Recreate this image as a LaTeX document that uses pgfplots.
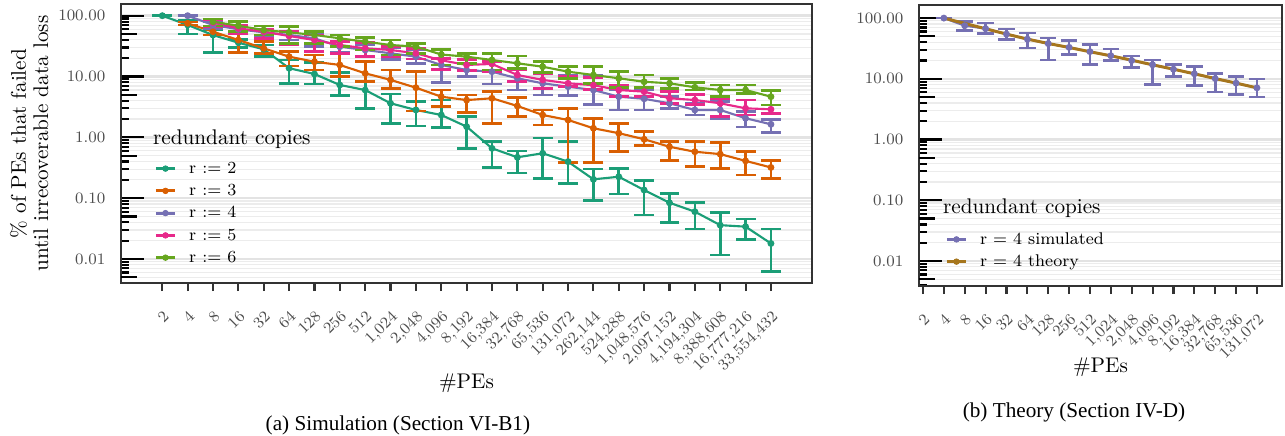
\documentclass[border=0pt]{standalone}
\usepackage{fontspec}
\usepackage{pgfplots}
\usepackage{pgfplotstable}
\pgfplotsset{compat=1.18}
\newfontfamily\capfont{Liberation Serif}
\definecolor{cA}{HTML}{1B9E77}
\definecolor{cB}{HTML}{D95F02}
\definecolor{cC}{HTML}{7570B3}
\definecolor{cD}{HTML}{E7298A}
\definecolor{cE}{HTML}{66A61E}
\definecolor{cT}{HTML}{A6761D}
\definecolor{frame}{HTML}{333333}
\definecolor{ticklab}{HTML}{4D4D4D}
\definecolor{gmaj}{HTML}{E3E3E3}
\definecolor{gmin}{HTML}{ECECEC}

\pgfplotstableread{
k y lo hi
1 100 100 100
2 70.4 50 85
3 48 25 58
4 36 30 41
5 28 21.2 33
6 13.7 7.7 18.7
7 11.0 7.5 16.9
8 7.26 4.84 11.6
9 6.0 3.0 8.1
10 3.63 1.70 5.16
11 2.82 1.54 3.86
12 2.33 1.44 4.1
13 1.50 0.66 2.19
14 0.66 0.317 0.85
15 0.47 0.26 0.6
16 0.547 0.212 0.98
17 0.398 0.176 0.85
18 0.204 0.091 0.30
19 0.225 0.117 0.31
20 0.136 0.053 0.194
21 0.084 0.040 0.12
22 0.06 0.031 0.084
23 0.036 0.0117 0.058
24 0.034 0.021 0.0455
25 0.018 0.0062 0.031
}\tA
\pgfplotstableread{
k y lo hi
2 75 70 79
3 54.6 48 62
4 39.8 25 51.4
5 29.1 24.1 37.4
6 21.2 14.9 25.6
7 17.5 12.8 22.6
8 15.5 9.9 24.1
9 11.3 8.2 17.5
10 8.8 6.4 12.8
11 6.55 2.7 12.0
12 4.66 3.19 6.0
13 4.1 2.58 4.97
14 4.39 1.70 5.63
15 3.28 2.19 4.56
16 2.33 1.6 2.82
17 1.93 0.39 3.0
18 1.41 0.39 2.06
19 1.17 0.58 1.70
20 0.93 0.73 1.24
21 0.70 0.42 0.85
22 0.58 0.33 0.85
23 0.53 0.31 0.82
24 0.41 0.24 0.58
25 0.32 0.21 0.42
}\tB
\pgfplotstableread{
k y lo hi
2 100 100 100
3 70.4 62 79.7
4 59.7 51.4 66
5 53.3 46.3 59.7
6 48.2 39.8 54.6
7 42.5 30.9 51.4
8 30.9 25 38
9 27.3 21 33
10 24.1 19 30
11 21.2 16.5 27.3
12 15.5 7.9 20.0
13 12.8 10.0 16.0
14 12.0 7.5 17.5
15 9.35 6.0 13.7
16 7.74 5.0 11.6
17 6.8 4.84 10.6
18 6.0 3.5 10.6
19 4.66 2.82 6.0
20 4.3 2.82 6.0
21 3.63 3.0 4.66
22 2.82 2.33 3.63
23 2.82 2.0 3.86
24 2.06 1.47 2.63
25 1.64 1.2 1.98
}\tC
\pgfplotstableread{
k y lo hi
3 76.7 66 85
4 62 51.4 70.4
5 54.6 42.5 59.7
6 46.4 33 54.6
7 39.8 25.6 48.2
8 33.0 24.1 37.4
9 29.1 21.2 36
10 27.3 21.2 31
11 24.1 19.5 29
12 18.5 13 19.9
13 15.5 12.5 19.2
14 16.1 12.0 17.5
15 10.6 8.2 12.8
16 8.8 6.4 11.3
17 7.74 6.8 9.96
18 7.2 6.17 9.7
19 6.0 4.66 7.26
20 5.64 4.66 6.65
21 4.39 3.63 5.64
22 4.11 3.5 5.1
23 3.63 2.19 4.39
24 3.0 2.33 4.11
25 2.89 2.49 3.41
}\tD
\pgfplotstableread{
k y lo hi
3 79.7 67.7 88.3
4 68.5 54.6 79.7
5 58 48.2 67.7
6 53.3 35.2 66
7 48.2 35.2 54.6
8 42.5 31 48.2
9 37.4 27.3 44.2
10 33 22.6 39.8
11 31 24.1 35.2
12 23 15.5 28
13 21.2 16.5 24.1
14 18.7 12.8 24.1
15 16.5 13.7 21.8
16 14.5 11.6 17.5
17 12.0 9.35 14.5
18 10.6 7.74 14.5
19 9.35 6.65 12.0
20 8.2 6.65 10.6
21 7.74 6.4 9.35
22 6.65 6.0 7.9
23 6.0 4.66 7.26
24 6.0 5.3 7.26
25 4.66 3.41 5.84
}\tE
\pgfplotstableread{
k y lo hi
2 100 100 100
3 75 62.6 88.1
4 67 55.2 82.7
5 54.5 43.9 65.9
6 45 32.0 56.6
7 38 20.3 46.8
8 33 24.9 42.8
9 28 17.0 36.3
10 24 20.0 30.8
11 20 15.2 23.9
12 17 8.07 20.3
13 14.4 10.9 17.0
14 12.1 7.67 16.0
15 10.1 6.1 12.1
16 8.5 5.45 10.9
17 7.1 4.99 9.9
}\tS
\pgfplotstableread{
k y
2 100
3 81.7
4 66.7
5 54.5
6 45.1
7 38.2
8 32.8
9 27.9
10 23.9
11 20.3
12 17.0
13 14.4
14 12.1
15 10.1
16 8.5
17 7.1
}\tT

% the y axis shows log10 of the percentage, labelled with the percentage
\pgfplotsset{
  panel/.style={
    scale only axis,
    axis line style={draw=frame, line width=0.8pt},
    tickpos=left,
    tick align=inside,
    xtick align=outside,
    major tick length=10.85pt,
    minor tick length=3.8pt,
    tick style={black, line width=1pt},
    xtick style={/pgfplots/major tick length=3.8pt, draw=frame},
    ytick={-2,-1,0,1,2},
    yticklabels={0.01,0.10,1.00,10.00,100.00},
    minor ytick={-2.39794,-2.30103,-2.22185,-2.15490,-2.09691,-2.04576,
      -1.69897,-1.52288,-1.39794,-1.30103,-1.22185,-1.15490,-1.09691,-1.04576,
      -0.69897,-0.52288,-0.39794,-0.30103,-0.22185,-0.15490,-0.09691,-0.04576,
      0.30103,0.47712,0.60206,0.69897,0.77815,0.84510,0.90309,0.95424,
      1.30103,1.47712,1.60206,1.69897,1.77815,1.84510,1.90309,1.95424},
    extra y ticks={-2.30103,-1.30103,-0.30103,0.69897,1.69897},
    extra y tick labels={},
    extra y tick style={/pgfplots/major tick length=7.5pt, grid=none},
    ymajorgrids, yminorgrids,
    major grid style={draw=gmaj, line width=1.2pt},
    minor grid style={draw=gmin, line width=0.55pt},
    tick label style={font=\fontsize{7.5}{9}\selectfont, text=ticklab},
    yticklabel style={xshift=-3.9pt},
    xticklabel style={rotate=45, anchor=north east, inner sep=1pt},
    label style={font=\fontsize{10}{10.5}\selectfont},
    legend style={draw=none, fill=none, font=\fontsize{8}{9}\selectfont,
      row sep=3pt, column sep=6pt, inner sep=0pt,
      nodes={inner sep=0pt, text height=6pt, text depth=1.5pt}},
    legend cell align=left,
  },
  ser/.style 2 args={color=#1, line width=1.0pt, mark=*, mark size=1.1pt,
    mark options={solid, fill=#1},
    error bars/.cd, y dir=both, y explicit,
    error bar style={line width=1.25pt, #1},
    error mark options={rotate=90, line width=1.25pt, mark size=#2, #1}},
}

\begin{document}
\begin{tikzpicture}
\path[use as bounding box] (0,0) rectangle (606.13pt,205.66pt);
\begin{axis}[panel,
  at={(57.08pt,72.17pt)}, anchor=south west,
  width=325.9pt, height=131.6pt,
  xmin=-0.628, xmax=26.616, ymin=-2.3947, ymax=2.1923,
  xtick={1,...,25},
  xticklabels={2,4,8,16,32,64,128,256,512,1{,}024,2{,}048,4{,}096,8{,}192,16{,}384,32{,}768,65{,}536,131{,}072,262{,}144,524{,}288,1{,}048{,}576,2{,}097{,}152,4{,}194{,}304,8{,}388{,}608,16{,}777{,}216,33{,}554{,}432},
  xlabel={\#PEs}, xlabel style={at={(rel axis cs:0.5,-0.358)}, anchor=center},
  ylabel={\% of PEs that failed\\until irrecoverable data loss},
  ylabel style={at={(rel axis cs:-0.1331,0.5)}, anchor=center, align=center},
  legend style={at={(rel axis cs:0.0478,0.44)}, anchor=north west},
  legend image code/.code={\draw[#1, line width=1.4pt] (0pt,0pt) -- (9pt,0pt); \fill[#1] (4.5pt,0pt) circle (1.3pt);},
]
\addplot[forget plot, ser={cA}{4.7pt}] table[x=k, y expr=log10(\thisrow{y}), y error plus expr=log10(\thisrow{hi})-log10(\thisrow{y}), y error minus expr=log10(\thisrow{y})-log10(\thisrow{lo})] {\tA};
\addplot[forget plot, ser={cB}{4.7pt}] table[x=k, y expr=log10(\thisrow{y}), y error plus expr=log10(\thisrow{hi})-log10(\thisrow{y}), y error minus expr=log10(\thisrow{y})-log10(\thisrow{lo})] {\tB};
\addplot[forget plot, ser={cC}{4.7pt}] table[x=k, y expr=log10(\thisrow{y}), y error plus expr=log10(\thisrow{hi})-log10(\thisrow{y}), y error minus expr=log10(\thisrow{y})-log10(\thisrow{lo})] {\tC};
\addplot[forget plot, ser={cD}{4.7pt}] table[x=k, y expr=log10(\thisrow{y}), y error plus expr=log10(\thisrow{hi})-log10(\thisrow{y}), y error minus expr=log10(\thisrow{y})-log10(\thisrow{lo})] {\tD};
\addplot[forget plot, ser={cE}{4.7pt}] table[x=k, y expr=log10(\thisrow{y}), y error plus expr=log10(\thisrow{hi})-log10(\thisrow{y}), y error minus expr=log10(\thisrow{y})-log10(\thisrow{lo})] {\tE};
\addlegendimage{cA}\addlegendentry{r := 2}
\addlegendimage{cB}\addlegendentry{r := 3}
\addlegendimage{cC}\addlegendentry{r := 4}
\addlegendimage{cD}\addlegendentry{r := 5}
\addlegendimage{cE}\addlegendentry{r := 6}
\node[anchor=west, inner sep=0pt, font=\fontsize{10}{12}\selectfont] at (rel axis cs:0.0459,0.516) {redundant copies};
\end{axis}

\begin{axis}[panel,
  at={(433.5pt,70.76pt)}, anchor=south west,
  width=171.2pt, height=132.5pt,
  xmin=0.81, xmax=18.2, ymin=-2.4112, ymax=2.214,
  xtick={1,...,17},
  xticklabels={2,4,8,16,32,64,128,256,512,1{,}024,2{,}048,4{,}096,8{,}192,16{,}384,32{,}768,65{,}536,131{,}072},
  xlabel={\#PEs}, xlabel style={at={(rel axis cs:0.5,-0.288)}, anchor=center},
  legend style={at={(rel axis cs:0.0716,0.1957)}, anchor=north west},
  legend image code/.code={\draw[#1, line width=1.4pt] (0pt,0pt) -- (9pt,0pt); \fill[#1] (4.5pt,0pt) circle (1.3pt);},
]
\addplot[forget plot, ser={cC}{3.9pt}] table[x=k, y expr=log10(\thisrow{y}), y error plus expr=log10(\thisrow{hi})-log10(\thisrow{y}), y error minus expr=log10(\thisrow{y})-log10(\thisrow{lo})] {\tS};
\addplot[forget plot, color=cT, line width=1.4pt, mark=none] table[x=k, y expr=log10(\thisrow{y})] {\tT};
\addlegendimage{cC}\addlegendentry{r = 4 simulated}
\addlegendimage{cT}\addlegendentry{r = 4 theory}
\node[anchor=west, inner sep=0pt, font=\fontsize{10}{12}\selectfont] at (rel axis cs:0.0653,0.2776) {redundant copies};
\end{axis}

\node[font=\capfont\fontsize{10}{12}\selectfont] at (187.7pt,5.2pt) {(a) Simulation (Section VI-B1)};
\node[font=\capfont\fontsize{10}{12}\selectfont] at (506.6pt,11.3pt) {(b) Theory (Section IV-D)};
\end{tikzpicture}
\end{document}
